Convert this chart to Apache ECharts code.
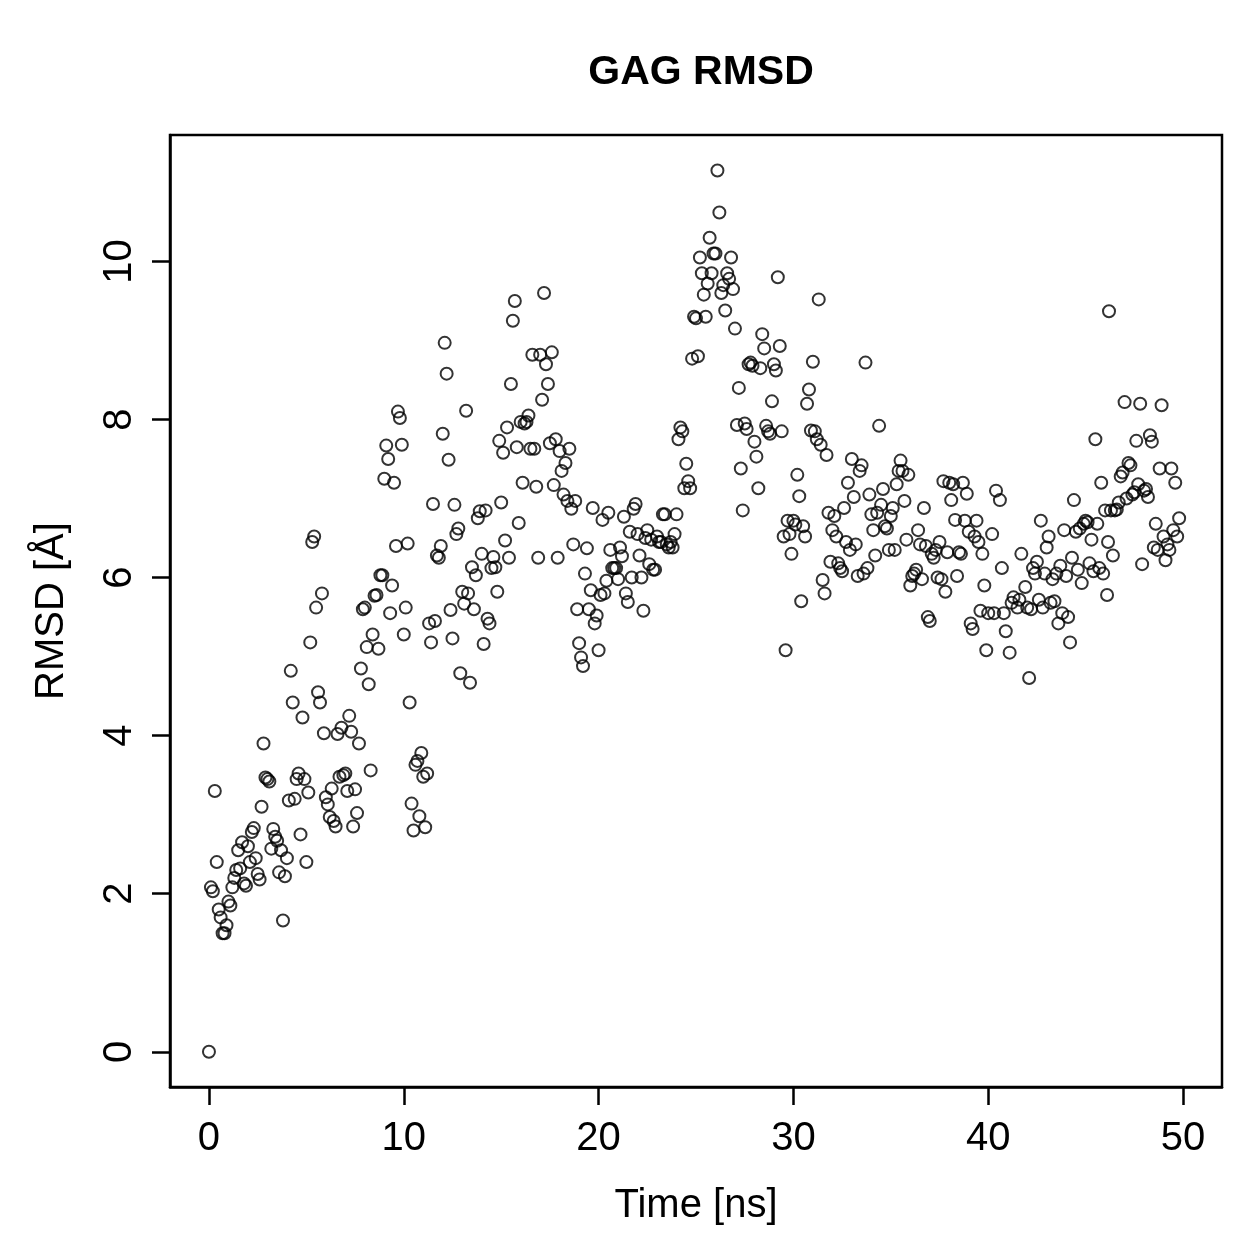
<!DOCTYPE html>
<html>
<head>
<meta charset="utf-8">
<title>GAG RMSD</title>
<script src="https://cdn.jsdelivr.net/npm/echarts@6/dist/echarts.min.js"></script>
<style>
    html, body { margin: 0; padding: 0; background: #fff; }
    #chart { width: 1259px; height: 1259px; }
</style>
</head>
<body>
<div id="chart"></div>
<script>
//时间 0 - 9.9 ns
const time0 = [0.0, 0.1, 0.2, 0.3, 0.4, 0.5, 0.6, 0.7, 0.8, 0.9, 1.0, 1.1, 1.2, 1.3, 1.4, 1.5, 1.6, 1.7, 1.8, 1.9,
    2.0, 2.1, 2.2, 2.3, 2.4, 2.5, 2.6, 2.7, 2.8, 2.9, 3.0, 3.1, 3.2, 3.3, 3.4, 3.5, 3.6, 3.7, 3.8, 3.9,
    4.0, 4.1, 4.2, 4.3, 4.4, 4.5, 4.6, 4.7, 4.8, 4.9, 5.0, 5.1, 5.2, 5.3, 5.4, 5.5, 5.6, 5.7, 5.8, 5.9,
    6.0, 6.1, 6.2, 6.3, 6.4, 6.5, 6.6, 6.7, 6.8, 6.9, 7.0, 7.1, 7.2, 7.3, 7.4, 7.5, 7.6, 7.7, 7.8, 7.9,
    8.0, 8.1, 8.2, 8.3, 8.4, 8.5, 8.6, 8.7, 8.8, 8.9, 9.0, 9.1, 9.2, 9.3, 9.4, 9.5, 9.6, 9.7, 9.8, 9.9];
const rmsd0 = [0, 2.08, 2.03, 3.3, 2.4, 1.8, 1.7, 1.5, 1.5, 1.6, 1.9, 1.85, 2.08, 2.2, 2.3, 2.55, 2.32, 2.65, 2.13, 2.1,
    2.6, 2.4, 2.78, 2.83, 2.45, 2.25, 2.18, 3.1, 3.9, 3.47, 3.45, 3.42, 2.57, 2.82, 2.72, 2.67, 2.27, 2.55, 1.66, 2.22,
    2.45, 3.18, 4.82, 4.42, 3.2, 3.45, 3.52, 2.75, 4.23, 3.45, 2.4, 3.28, 5.18, 6.45, 6.52, 5.62, 4.55, 4.42, 5.8, 4.03,
    3.22, 3.13, 2.97, 3.33, 2.92, 2.85, 4.02, 3.48, 4.1, 3.5, 3.52, 3.3, 4.25, 4.05, 2.85, 3.32, 3.02, 3.9, 4.85, 5.6,
    5.62, 5.12, 4.65, 3.56, 5.28, 5.77, 5.78, 5.1, 6.03, 6.03, 7.25, 7.67, 7.5, 5.55, 5.9, 7.2, 6.4, 8.1, 8.02, 7.68];

//时间 10 - 19.9 ns
const time1 = [10.0, 10.1, 10.2, 10.3, 10.4, 10.5, 10.6, 10.7, 10.8, 10.9, 11.0, 11.1, 11.2, 11.3, 11.4, 11.5, 11.6, 11.7, 11.8, 11.9,
    12.0, 12.1, 12.2, 12.3, 12.4, 12.5, 12.6, 12.7, 12.8, 12.9, 13.0, 13.1, 13.2, 13.3, 13.4, 13.5, 13.6, 13.7, 13.8, 13.9,
    14.0, 14.1, 14.2, 14.3, 14.4, 14.5, 14.6, 14.7, 14.8, 14.9, 15.0, 15.1, 15.2, 15.3, 15.4, 15.5, 15.6, 15.7, 15.8, 15.9,
    16.0, 16.1, 16.2, 16.3, 16.4, 16.5, 16.6, 16.7, 16.8, 16.9, 17.0, 17.1, 17.2, 17.3, 17.4, 17.5, 17.6, 17.7, 17.8, 17.9,
    18.0, 18.1, 18.2, 18.3, 18.4, 18.5, 18.6, 18.7, 18.8, 18.9, 19.0, 19.1, 19.2, 19.3, 19.4, 19.5, 19.6, 19.7, 19.8, 19.9];
const rmsd1 = [5.28, 5.62, 6.43, 4.42, 3.14, 2.8, 3.63, 3.68, 2.98, 3.78, 3.48, 2.84, 3.52, 5.42, 5.18, 6.93, 5.45, 6.28, 6.25, 6.4,
    7.82, 8.97, 8.58, 7.49, 5.59, 5.23, 6.92, 6.55, 6.62, 4.79, 5.82, 5.67, 8.11, 5.8, 4.67, 6.13, 5.6, 6.03, 6.75, 6.84,
    6.3, 5.16, 6.85, 5.48, 5.42, 6.12, 6.26, 6.13, 5.82, 7.73, 6.95, 7.58, 6.47, 7.9, 6.25, 8.45, 9.25, 9.5, 7.65, 6.69,
    7.97, 7.2, 7.95, 7.97, 8.05, 7.63, 8.82, 7.63, 7.15, 6.25, 8.82, 8.25, 9.6, 8.7, 8.45, 7.7, 8.85, 7.17, 7.75, 6.25,
    7.6, 7.35, 7.05, 7.45, 6.97, 7.63, 6.87, 6.42, 6.97, 5.6, 5.17, 4.99, 4.88, 6.05, 6.37, 5.6, 5.84, 6.88, 5.42, 5.52];

//时间 20 - 29.9 ns
const time2 = [20.0, 20.1, 20.2, 20.3, 20.4, 20.5, 20.6, 20.7, 20.8, 20.9, 21.0, 21.1, 21.2, 21.3, 21.4, 21.5, 21.6, 21.7, 21.8, 21.9,
    22.0, 22.1, 22.2, 22.3, 22.4, 22.5, 22.6, 22.7, 22.8, 22.9, 23.0, 23.1, 23.2, 23.3, 23.4, 23.5, 23.6, 23.7, 23.8, 23.9,
    24.0, 24.1, 24.2, 24.3, 24.4, 24.5, 24.6, 24.7, 24.8, 24.9, 25.0, 25.1, 25.2, 25.3, 25.4, 25.5, 25.6, 25.7, 25.8, 25.9,
    26.0, 26.1, 26.2, 26.3, 26.4, 26.5, 26.6, 26.7, 26.8, 26.9, 27.0, 27.1, 27.2, 27.3, 27.4, 27.5, 27.6, 27.7, 27.8, 27.9,
    28.0, 28.1, 28.2, 28.3, 28.4, 28.5, 28.6, 28.7, 28.8, 28.9, 29.0, 29.1, 29.2, 29.3, 29.4, 29.5, 29.6, 29.7, 29.8, 29.9];
const rmsd2 = [5.08, 5.78, 6.73, 5.8, 5.96, 6.82, 6.35, 6.12, 6.12, 6.12, 5.98, 6.38, 6.27, 6.77, 5.8, 5.69, 6.58, 6.0, 6.87, 6.93,
    6.55, 6.28, 6.0, 5.58, 6.5, 6.6, 6.17, 6.48, 6.1, 6.1, 6.52, 6.45, 6.45, 6.8, 6.8, 6.42, 6.38, 6.45, 6.38, 6.55,
    6.8, 7.75, 7.9, 7.85, 7.13, 7.44, 7.22, 7.13, 8.77, 9.3, 9.28, 8.8, 10.05, 9.85, 9.58, 9.3, 9.72, 10.3, 9.85, 10.1,
    10.1, 11.15, 10.62, 9.6, 9.7, 9.38, 9.85, 9.78, 10.05, 9.65, 9.15, 7.93, 8.4, 7.38, 6.85, 7.95, 7.88, 8.7, 8.72, 8.68,
    7.72, 7.53, 7.13, 8.65, 9.08, 8.9, 7.92, 7.85, 7.82, 8.23, 8.7, 8.62, 9.8, 8.93, 7.85, 6.52, 5.08, 6.72, 6.55, 6.3];

//时间 30 - 39.8 ns
const time3 = [30.0, 30.1, 30.2, 30.3, 30.4, 30.5, 30.6, 30.7, 30.8, 30.9, 31.0, 31.1, 31.2, 31.3, 31.4, 31.5, 31.6, 31.7, 31.8, 31.9,
    32.0, 32.1, 32.2, 32.3, 32.4, 32.5, 32.6, 32.7, 32.8, 32.9, 33.0, 33.1, 33.2, 33.3, 33.4, 33.5, 33.6, 33.7, 33.8, 33.9,
    34.0, 34.1, 34.2, 34.3, 34.4, 34.5, 34.6, 34.7, 34.8, 34.9, 35.0, 35.1, 35.2, 35.3, 35.4, 35.5, 35.6, 35.7, 35.8, 35.9,
    36.0, 36.1, 36.2, 36.3, 36.4, 36.5, 36.6, 36.7, 36.8, 36.9, 37.0, 37.1, 37.2, 37.3, 37.4, 37.5, 37.6, 37.7, 37.8, 37.9,
    38.0, 38.1, 38.2, 38.3, 38.4, 38.5, 38.6, 38.7, 38.8, 38.9, 39.0, 39.1, 39.2, 39.3, 39.4, 39.5, 39.6, 39.7, 39.8];
const rmsd3 = [6.72, 6.67, 7.3, 7.03, 5.7, 6.65, 6.52, 8.2, 8.38, 7.86, 8.73, 7.85, 7.75, 9.52, 7.68, 5.97, 5.8, 7.55, 6.82, 6.2,
    6.6, 6.78, 6.52, 6.18, 6.12, 6.08, 6.88, 6.45, 7.2, 6.35, 7.5, 7.02, 6.42, 6.02, 7.35, 7.42, 6.05, 8.72, 6.12, 7.05,
    6.8, 6.6, 6.28, 6.82, 7.92, 6.92, 7.12, 6.65, 6.62, 6.35, 6.78, 6.88, 6.35, 7.18, 7.35, 7.48, 7.35, 6.97, 6.48, 7.3,
    5.9, 6.02, 6.05, 6.1, 6.6, 6.42, 5.98, 6.88, 6.4, 5.5, 5.45, 6.3, 6.25, 6.35, 6.0, 6.45, 5.98, 7.22, 5.82, 6.32,
    7.2, 6.98, 7.18, 6.73, 6.02, 6.32, 6.3, 7.2, 6.72, 7.06, 6.58, 5.42, 5.35, 6.52, 6.72, 6.45, 5.58, 6.3, 5.9];

//时间 39.9 - 49.8 ns
const time4 = [39.9, 40.0, 40.2, 40.3, 40.4, 40.6, 40.7, 40.8, 40.9, 41.1, 41.2, 41.3, 41.5, 41.6, 41.7, 41.9, 42.0, 42.1,
    42.2, 42.3, 42.4, 42.5, 42.6, 42.7, 42.8, 42.9, 43.0, 43.1, 43.2, 43.3, 43.4, 43.5, 43.6, 43.7, 43.8, 43.9,
    44.0, 44.1, 44.2, 44.3, 44.4, 44.5, 44.6, 44.7, 44.8, 44.9, 45.0, 45.1, 45.2, 45.3, 45.4, 45.5, 45.6, 45.7,
    45.8, 45.9, 46.0, 46.1, 46.15, 46.2,
    46.3, 46.4, 46.5, 46.6, 46.7, 46.8, 46.9, 47.0, 47.1, 47.2, 47.3, 47.4, 47.5, 47.6, 47.7, 47.8, 47.9, 48.0,
    48.1, 48.2, 48.3, 48.4, 48.5, 48.6, 48.7, 48.8, 48.9, 49.0, 49.1, 49.2, 49.3, 49.4, 49.5, 49.6, 49.7, 49.8];
const rmsd4 = [5.08, 5.55, 6.55, 5.55, 7.1, 6.98, 6.12, 5.55, 5.32, 5.05, 5.68, 5.75, 5.62, 5.72, 6.3, 5.88, 5.62, 4.73,
    5.6, 6.12, 6.05, 6.2, 5.72, 6.72, 5.62, 6.05, 6.38, 6.52, 5.68, 5.98, 5.7, 6.05, 5.42, 6.15, 5.55, 6.6,
    6.02, 5.5, 5.18, 6.25, 6.98, 6.58, 6.1, 6.62, 5.93, 6.68, 6.72, 6.7, 6.18, 6.48, 6.08, 7.75, 6.68, 6.12,
    7.2, 6.05, 6.85, 5.78, 6.45, 9.37,
    6.85, 6.28, 6.85, 6.86, 6.95, 7.28, 7.33, 8.22, 7.0, 7.45, 7.42, 7.05, 7.08, 7.73, 7.18, 8.2, 6.17, 7.1,
    7.12, 7.02, 7.8, 7.72, 6.38, 6.68, 6.35, 7.38, 8.18, 6.52, 6.22, 6.42, 6.35, 7.38, 6.6, 7.2, 6.52, 6.75];

//刻度
const xTicks = [0, 10, 20, 30, 40, 50];
const yTicks = [0, 2, 4, 6, 8, 10];

const font = 'Liberation Sans, Arial, Helvetica, sans-serif';

let charts1 = echarts.init(document.getElementById('chart'));
renderCharts1();

//拼接散点
function buildPoints() {
    let points = [];
    const times = [time0, time1, time2, time3, time4];
    const values = [rmsd0, rmsd1, rmsd2, rmsd3, rmsd4];
    for (let s = 0; s < times.length; s++) {
        for (let i = 0; i < times[s].length; i++) {
            points.push([times[s][i], values[s][i]]);
        }
    }
    return points;
}

function renderCharts1() {
    let option = {
        animation: false,
        backgroundColor: '#fff',
        title: {
            text: 'GAG RMSD',
            left: 696,
            top: 47,
            textAlign: 'center',
            textStyle: {
                fontFamily: font,
                fontSize: 41,
                fontWeight: 'bold',
                color: '#000'
            }
        },
        grid: {
            left: 170,
            right: 37,
            top: 135,
            bottom: 172,
            show: true,
            borderColor: '#000',
            borderWidth: 2.5,
            backgroundColor: 'transparent'
        },
        xAxis: {
            type: 'value',
            min: -2,
            max: 52,
            name: 'Time [ns]',
            nameLocation: 'middle',
            nameGap: 99,
            nameTextStyle: { fontFamily: font, fontSize: 40, color: '#000' },
            axisLine: { show: true, onZero: false, lineStyle: { color: '#000', width: 2.5 } },
            axisTick: { show: true, length: 18, customValues: xTicks, lineStyle: { color: '#000', width: 2.5 } },
            axisLabel: { customValues: xTicks, margin: 32, fontFamily: font, fontSize: 40, color: '#000' },
            splitLine: { show: false }
        },
        yAxis: {
            type: 'value',
            min: -0.446,
            max: 11.6,
            name: 'RMSD [Å]',
            nameLocation: 'middle',
            nameGap: 98,
            nameTextStyle: { fontFamily: font, fontSize: 40, color: '#000' },
            axisLine: { show: true, onZero: false, lineStyle: { color: '#000', width: 2.5 } },
            axisTick: { show: true, length: 18, customValues: yTicks, lineStyle: { color: '#000', width: 2.5 } },
            axisLabel: { customValues: yTicks, rotate: 90, margin: 30, fontFamily: font, fontSize: 40, color: '#000' },
            splitLine: { show: false }
        },
        series: [
            {
                type: 'scatter',
                symbol: 'circle',
                symbolSize: 12,
                itemStyle: {
                    color: 'rgba(0,0,0,0)',
                    borderColor: '#000',
                    borderWidth: 2
                },
                data: buildPoints()
            }
        ]
    };
    charts1.setOption(option);
}
</script>
</body>
</html>
